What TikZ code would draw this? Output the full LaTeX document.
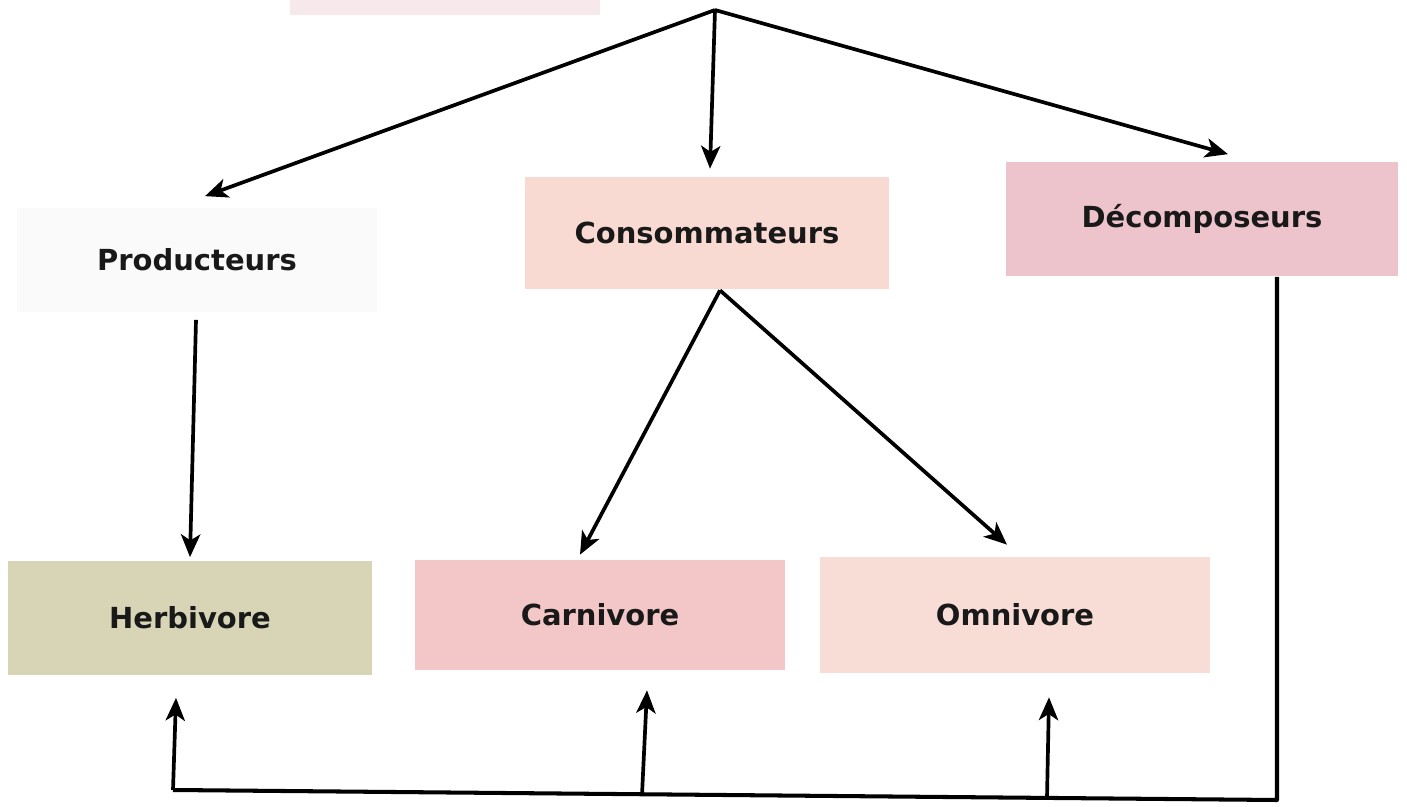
\documentclass[tikz,border=0pt]{standalone}
\usepackage{fontspec}
\setmainfont{DejaVu Sans}
\usetikzlibrary{arrows.meta}
\definecolor{topc}{HTML}{F6E8EB}
\definecolor{prodc}{HTML}{FAFAFB}
\definecolor{consc}{HTML}{F8DAD3}
\definecolor{decc}{HTML}{EEC4CC}
\definecolor{herbc}{HTML}{D7D5B5}
\definecolor{carnc}{HTML}{F3C6C7}
\definecolor{omnic}{HTML}{F8DDD7}
\tikzset{
  box/.style={rectangle, inner sep=0pt, font=\fontsize{16.5}{19}\selectfont\bfseries, text=black!90},
  arr/.style={line width=2.1pt, -{Stealth[length=13pt,width=11pt,inset=3.5pt]}},
  ln/.style={line width=2.3pt},
}
\begin{document}
\begin{tikzpicture}[x=0.02cm,y=-0.02cm]
\useasboundingbox (0,0) rectangle (1407,807);
\node[box, fill=topc, minimum width=6.2cm, minimum height=0.6cm] (top) at (445,0) {};
\coordinate (apex) at (715,10);
\node[box, fill=prodc, minimum width=7.2cm, minimum height=2.1cm] (prod) at (197,260) {Producteurs};
\node[box, fill=consc, minimum width=7.3cm, minimum height=2.24cm] (cons) at (707,233) {Consommateurs};
\node[box, fill=decc, minimum width=7.84cm, minimum height=2.3cm] (dec) at (1202,219) {Décomposeurs};
\node[box, fill=herbc, minimum width=7.3cm, minimum height=2.3cm] (herb) at (190,618) {Herbivore};
\node[box, fill=carnc, minimum width=7.4cm, minimum height=2.2cm] (carn) at (600,615) {Carnivore};
\node[box, fill=omnic, minimum width=7.8cm, minimum height=2.32cm] (omni) at (1015,615) {Omnivore};
% top arrows
\draw[arr] (apex) -- ([shift={(8,-11)}]prod.north);
\draw[arr] (apex) -- ([shift={(3,-8)}]cons.north);
\draw[arr] (apex) -- ([shift={(26,-7)}]dec.north);
% producers to herbivore
\draw[arr] ([shift={(-1,7)}]prod.south) -- ([shift={(0,-3)}]herb.north);
% consumers to carnivore / omnivore
\coordinate (cs) at ([shift={(13,1)}]cons.south);
\draw[arr] (cs) -- ([shift={(-20,-5)}]carn.north);
\draw[arr] (cs) -- ([shift={(-8,-12)}]omni.north);
% feedback loop
\coordinate (br) at (1277,800);
\coordinate (bl) at (173,790);
\coordinate (bc) at (642,795);
\coordinate (bo) at (1047,798);
\draw[ln, line join=round] ([xshift=75*0.02cm]dec.south) -- (br) -- (bl);
\draw[arr] (bl) -- ([shift={(-14,22)}]herb.south);
\draw[arr] (bc) -- ([shift={(47,20)}]carn.south);
\draw[arr] (bo) -- ([shift={(34,24)}]omni.south);
\end{tikzpicture}
\end{document}
